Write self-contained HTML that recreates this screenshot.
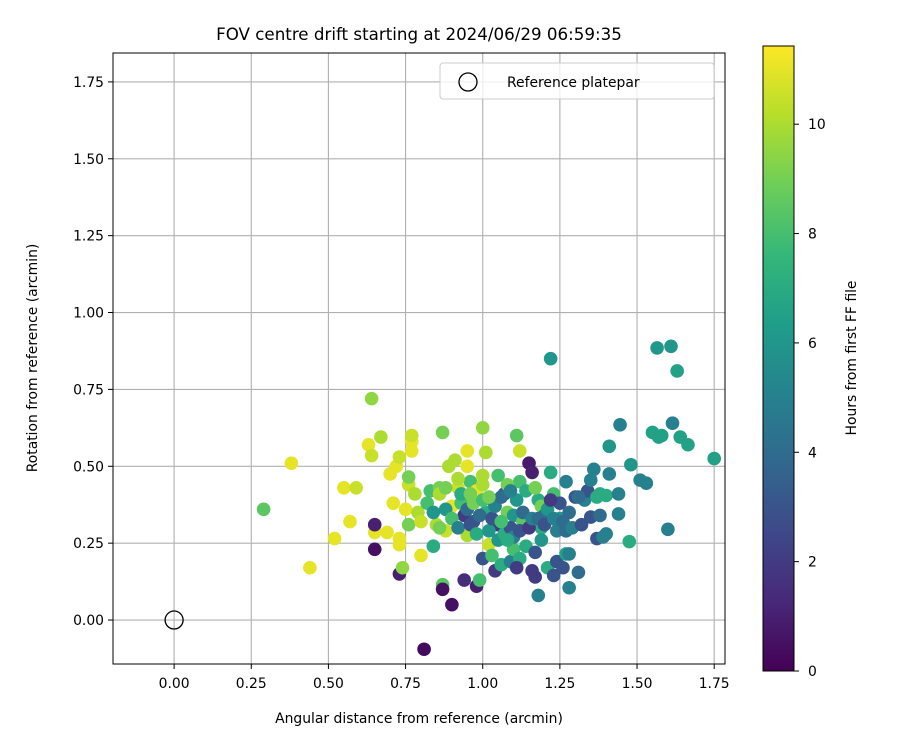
<!DOCTYPE html>
<html><head><meta charset="utf-8"><style>
body{margin:0;background:#fff;}
svg{display:block;font-family:"DejaVu Sans","Liberation Sans",sans-serif;}
</style></head><body>
<svg id="chart" width="900" height="750" viewBox="0 0 900 750" xmlns="http://www.w3.org/2000/svg">
<defs>
<linearGradient id="vir" x1="0" y1="1" x2="0" y2="0">
<stop offset="0" stop-color="#440154"/><stop offset="0.111" stop-color="#482878"/><stop offset="0.222" stop-color="#3e4989"/><stop offset="0.333" stop-color="#31688e"/><stop offset="0.444" stop-color="#26828e"/><stop offset="0.556" stop-color="#1f9e89"/><stop offset="0.667" stop-color="#35b779"/><stop offset="0.778" stop-color="#6ece58"/><stop offset="0.889" stop-color="#b5de2b"/><stop offset="1" stop-color="#fde725"/>
</linearGradient>
<clipPath id="plotclip"><rect x="113" y="53" width="612" height="611"/></clipPath>
</defs>
<rect width="900" height="750" fill="#fff"/>
<text x="419" y="40" text-anchor="middle" font-size="16.7">FOV centre drift starting at 2024/06/29 06:59:35</text>
<g id="grid"></g>
<g id="points" clip-path="url(#plotclip)"></g>
<rect x="113" y="53" width="612" height="611" fill="none" stroke="#000" stroke-width="1"/>
<g id="xticks"></g><g id="yticks"></g>
<text x="419" y="723" text-anchor="middle" font-size="13.9">Angular distance from reference (arcmin)</text>
<text transform="translate(37,358) rotate(-90)" text-anchor="middle" font-size="13.9">Rotation from reference (arcmin)</text>
<g>
<rect x="440" y="63" width="274" height="36" rx="3" fill="#fff" fill-opacity="0.8" stroke="#ccc"/>
<circle cx="468" cy="82" r="9" fill="none" stroke="#000" stroke-width="1.3"/>
<text x="507" y="87" font-size="13.9">Reference platepar</text>
</g>
<rect x="763" y="46" width="31" height="625" fill="url(#vir)" stroke="#000" stroke-width="1"/>
<g id="cticks"></g>
<text transform="translate(856,358) rotate(-90)" text-anchor="middle" font-size="13.9">Hours from first FF file</text>
</svg>
<script>
const xTicks=[0,0.25,0.5,0.75,1.0,1.25,1.5,1.75];
const yTicks=[0,0.25,0.5,0.75,1.0,1.25,1.5,1.75];
const cTicks=[0,2,4,6,8,10];
const refPoint=[0,0];
const xs=[0.29,0.38,0.44,0.52,0.55,0.57,0.59,0.63,0.64,0.64,0.65,0.65,0.65,0.67,0.69,0.70,0.71,0.72,0.73,0.73,0.73,0.73,0.74,0.75,0.76,0.76,0.76,0.77,0.77,0.77,0.78,0.79,0.80,0.80,0.81,0.83,0.84,0.85,0.86,0.86,0.87,0.87,0.87,0.88,0.89,0.90,0.90,0.91,0.92,0.93,0.94,0.94,0.95,0.95,0.95,0.96,0.97,0.98,0.98,0.99,1.00,1.00,1.00,1.01,1.01,1.02,1.03,1.04,1.05,1.05,1.06,1.07,1.08,1.09,1.10,1.10,1.11,1.12,1.12,1.13,1.14,1.15,1.16,1.16,1.17,1.17,1.18,1.18,1.19,1.19,1.20,1.21,1.22,1.22,1.23,1.23,1.24,1.25,1.25,1.26,1.27,1.27,1.28,1.28,1.28,1.30,1.31,1.33,1.34,1.35,1.35,1.36,1.37,1.38,1.38,1.39,1.40,1.40,1.41,1.41,1.44,1.44,1.445,1.475,1.48,1.51,1.53,1.55,1.565,1.57,1.58,1.60,1.61,1.615,1.63,1.64,1.665,1.75,
0.88,0.90,0.92,0.93,0.95,0.96,0.97,0.98,0.99,1.00,1.02,1.03,1.04,1.05,1.06,1.07,1.08,1.09,1.10,1.11,1.12,1.13,1.14,1.15,1.16,1.17,1.18,1.19,1.20,1.21,1.22,1.23,1.24,1.26,1.27,1.29,1.31,1.32,1.37,0.82,0.84,0.86,0.88,0.92,0.96,1.00,1.02,1.06,1.08,1.12,1.03,1.09,1.11];
const ys=[0.36,0.51,0.17,0.265,0.43,0.32,0.43,0.57,0.72,0.535,0.285,0.31,0.23,0.595,0.285,0.475,0.38,0.50,0.53,0.265,0.245,0.15,0.17,0.36,0.44,0.465,0.31,0.58,0.55,0.60,0.41,0.35,0.32,0.21,-0.095,0.42,0.24,0.31,0.43,0.41,0.115,0.10,0.61,0.29,0.50,0.05,0.37,0.52,0.43,0.38,0.13,0.34,0.50,0.55,0.275,0.45,0.32,0.11,0.42,0.13,0.625,0.47,0.20,0.35,0.545,0.245,0.39,0.16,0.31,0.47,0.18,0.41,0.35,0.19,0.23,0.34,0.60,0.45,0.55,0.32,0.24,0.51,0.16,0.48,0.14,0.22,0.39,0.08,0.37,0.30,0.34,0.17,0.85,0.48,0.41,0.145,0.19,0.33,0.38,0.17,0.45,0.215,0.105,0.35,0.215,0.40,0.155,0.39,0.42,0.455,0.335,0.49,0.265,0.34,0.41,0.27,0.28,0.405,0.565,0.475,0.345,0.41,0.635,0.255,0.505,0.455,0.445,0.61,0.885,0.595,0.60,0.295,0.89,0.64,0.81,0.595,0.57,0.525,
0.36,0.33,0.30,0.41,0.36,0.31,0.38,0.28,0.34,0.39,0.29,0.33,0.37,0.26,0.40,0.28,0.44,0.30,0.27,0.39,0.29,0.35,0.42,0.30,0.33,0.43,0.33,0.26,0.31,0.36,0.39,0.33,0.29,0.32,0.29,0.30,0.40,0.31,0.40,0.38,0.35,0.30,0.43,0.46,0.41,0.44,0.40,0.32,0.26,0.20,0.21,0.42,0.17];
const hours=[8.5,11,11,11,11,11,10.5,11,9.5,10.5,11,1,0.5,10,11,11,11,11,10.5,11,11,1,9.5,11,10.5,9,9,11,11,10.5,10,10,10.5,11,0.3,8,7,10,9,10,8.5,0.5,9,10.5,10,0.5,11,10,10.5,8,1.5,2,11,11,10,8,3,1,11,8,9.5,10,3,7,10,10.5,7,2,2,8,7,3,9,5,8,6,8.5,8,10.5,8.5,7,0.8,2,1,2,3,7,5,9,7,4,7,6,7,8,3,3,6,3,3,5,6.5,5,4,5,3,4,5,3,5,3,5,3,4,7,5,5,7,6,5,5,5,5,7,6,5,5,6.5,6,6.5,6.5,5,6,5,6.5,6.5,6.5,6.5,
6,8,5,7,4,3,9,7,4,8,6,3,5,6,4,7,9,3,5,6,3,4,7,2,5,9,4,6,3,6,2,5,5,4,4,5,4,3,7,8,6,9,9,10,9,10,9,8,7,7,8,5,2];
const X0=113,X1=725,xmin=-0.198,xmax=1.785,Y0=664,Y1=53,ymin=-0.143,ymax=1.844;
const CB0=671,CB1=46,cmin=0,cmax=11.43;
function sx(v){return X0+(v-xmin)/(xmax-xmin)*(X1-X0);}
function sy(v){return Y0-(v-ymin)/(ymax-ymin)*(Y0-Y1);}
function sc(v){return CB0-(v-cmin)/(cmax-cmin)*(CB0-CB1);}
const vir=[[68,1,84],[72,40,120],[62,73,137],[49,104,142],[38,130,142],[31,158,137],[53,183,121],[110,206,88],[181,222,43],[253,231,37]];
function color(h){let t=Math.max(0,Math.min(1,(h-cmin)/(cmax-cmin)))*(vir.length-1);let i=Math.min(vir.length-2,Math.floor(t)),f=t-i;const a=vir[i],b=vir[i+1];return 'rgb('+[0,1,2].map(k=>Math.round(a[k]+(b[k]-a[k])*f)).join(',')+')';}
const NS='http://www.w3.org/2000/svg';
function mk(t,attrs,parent){const e=document.createElementNS(NS,t);for(const k in attrs)e.setAttribute(k,attrs[k]);parent.appendChild(e);return e;}
const grid=document.getElementById('grid'),xt=document.getElementById('xticks'),yt=document.getElementById('yticks'),ct=document.getElementById('cticks'),pts=document.getElementById('points');
xTicks.forEach(v=>{const x=sx(v);
const g=mk('line',{x1:x,x2:x,y1:Y1,y2:Y0,stroke:'#b0b0b0','stroke-width':1.1},grid);


mk('line',{x1:x,x2:x,y1:Y0,y2:Y0+5,stroke:'#000'},xt);
const t=mk('text',{x:x,y:Y0+24,'text-anchor':'middle','font-size':13.9},xt);t.textContent=v.toFixed(2);

});
yTicks.forEach(v=>{const y=sy(v);
const g=mk('line',{x1:X0,x2:X1,y1:y,y2:y,stroke:'#b0b0b0','stroke-width':1.1},grid);


mk('line',{x1:X0-5,x2:X0,y1:y,y2:y,stroke:'#000'},yt);
const t=mk('text',{x:X0-9,y:y+5,'text-anchor':'end','font-size':13.9},yt);t.textContent=v.toFixed(2);

});
cTicks.forEach(v=>{const y=sc(v);
mk('line',{x1:794,x2:799,y1:y,y2:y,stroke:'#000'},ct);
const t=mk('text',{x:808,y:y+5,'font-size':13.9},ct);t.textContent=String(v);

});
for(let i=0;i<xs.length;i++){
const c=mk('circle',{cx:sx(xs[i]),cy:sy(ys[i]),r:6.8,fill:color(hours[i])},pts);

}
const r=mk('circle',{cx:sx(refPoint[0]),cy:sy(refPoint[1]),r:9,fill:'none',stroke:'#000','stroke-width':1.3},pts);


</script>
</body></html>
